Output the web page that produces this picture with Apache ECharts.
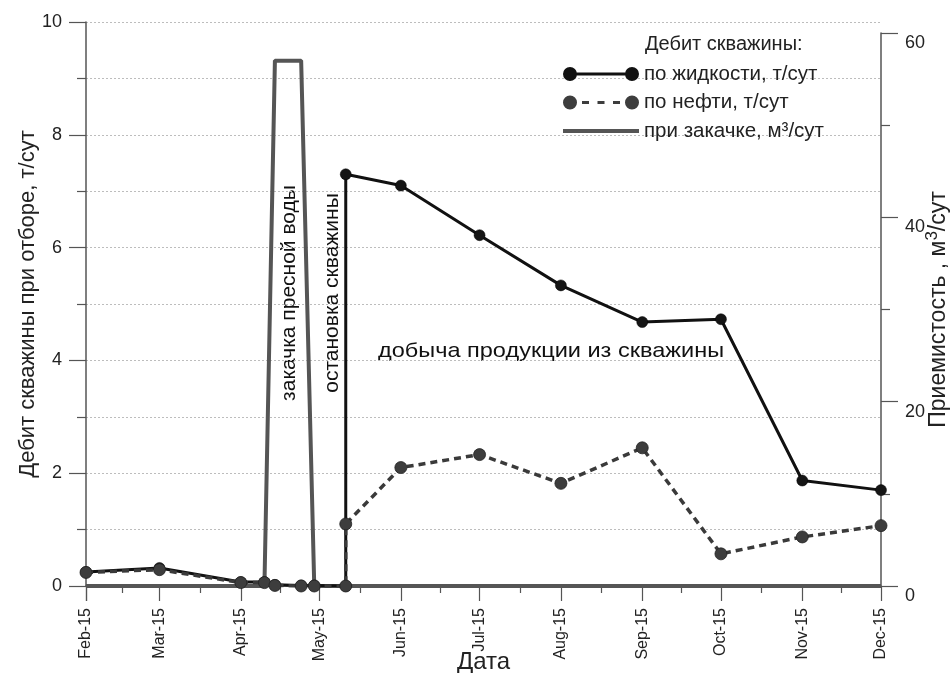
<!DOCTYPE html>
<html>
<head>
<meta charset="utf-8">
<style>
html,body{margin:0;padding:0;background:#fff;}
#chart{width:951px;height:673px;}
</style>
<script src="https://cdn.jsdelivr.net/npm/echarts@6/dist/echarts.min.js"></script>
</head>
<body>
<div id="chart"></div>
<script>
// ---- data ----
const monthNames = ['Jan','Feb','Mar','Apr','May','Jun','Jul','Aug','Sep','Oct','Nov','Dec'];
const prodDates = ['2015-02-01','2015-03-01','2015-04-01','2015-04-10','2015-04-14','2015-04-24','2015-04-29','2015-05-11','2015-05-11','2015-06-01','2015-07-01','2015-08-01','2015-09-01','2015-10-01','2015-11-01','2015-12-01'];
const liquidRate = [0.25, 0.32, 0.07, 0.07, 0.02, 0.01, 0.01, 0.0, 7.30, 7.10, 6.22, 5.33, 4.68, 4.73, 1.87, 1.70];
const oilRate    = [0.24, 0.29, 0.06, 0.06, 0.01, 0.0, 0.0, 0.0, 1.10, 2.10, 2.33, 1.82, 2.45, 0.57, 0.87, 1.07];
const injDates = ['2015-02-01','2015-04-10','2015-04-14','2015-04-24','2015-04-29','2015-12-01'];
const injRate  = [0, 0, 57, 57, 0, 0];

const nameLiquid = 'по жидкости, т/сут';
const nameOil = 'по нефти, т/сут';
const nameInj = 'при закачке, м³/сут';

const FONT = '"Liberation Sans", Arial, sans-serif';

const liquidData = prodDates.map((d, i) => [d, liquidRate[i]]);
const oilData = prodDates.map((d, i) => [d, oilRate[i]]);
const injData = injDates.map((d, i) => [d, injRate[i]]);

function fmtMonth(v) {
  const d = new Date(v);
  return monthNames[d.getMonth()] + '-' + String(d.getFullYear()).slice(2);
}

const iconLiquid = 'path://M0,7A7,7,0,1,1,14,7A7,7,0,1,1,0,7Z M7,5.5L69,5.5L69,8.5L7,8.5Z M62,7A7,7,0,1,1,76,7A7,7,0,1,1,62,7Z';
const iconOil = 'path://M0,7A7,7,0,1,1,14,7A7,7,0,1,1,0,7Z M19,5.5L26,5.5L26,8.5L19,8.5Z M34.5,5.5L41.5,5.5L41.5,8.5L34.5,8.5Z M50,5.5L57,5.5L57,8.5L50,8.5Z M62,7A7,7,0,1,1,76,7A7,7,0,1,1,62,7Z';
const iconInj = 'path://M0,0L76,0L76,4L0,4Z';

const chart = echarts.init(document.getElementById('chart'), null, {renderer: 'canvas'});
const axisColor = '#555';
const option = {
  backgroundColor: '#fff',
  animation: false,
  textStyle: {fontFamily: FONT},
  title: {
    text: 'Дебит скважины:',
    left: 645, top: 34, padding: 0,
    textStyle: {fontFamily: FONT, fontSize: 20, fontWeight: 'normal', color: '#222'}
  },
  legend: {
    orient: 'vertical',
    left: 563, top: 63, padding: 0,
    itemWidth: 76, itemHeight: 14, itemGap: 6.5,
    textStyle: {fontFamily: FONT, fontSize: 20.5, color: '#222', lineHeight: 22},
    data: [
      {name: nameLiquid, icon: iconLiquid, itemStyle: {color: '#111', borderWidth: 0}},
      {name: nameOil, icon: iconOil, itemStyle: {color: '#3d3d3d', borderWidth: 0}},
      {name: nameInj, icon: iconInj, itemStyle: {color: '#555', borderWidth: 0}}
    ]
  },
  grid: [
    {left: 86, right: 70, top: 22, bottom: 87, outerBoundsMode: 'none', containLabel: false},
    {left: 86, right: 70, top: 33, bottom: 87, outerBoundsMode: 'none', containLabel: false}
  ],
  xAxis: [
    {
      type: 'time', gridIndex: 0,
      min: '2015-02-01', max: '2015-12-01',
      splitNumber: 10,
      name: 'Дата', nameLocation: 'middle', nameGap: 64, nameMoveOverlap: false,
      nameTextStyle: {fontFamily: FONT, fontSize: 24, color: '#222'},
      axisLine: {lineStyle: {color: axisColor, width: 1.5}},
      axisTick: {show: true, length: 15, lineStyle: {color: axisColor, width: 1.2}},
      minorTick: {show: true, splitNumber: 2, length: 7, lineStyle: {color: axisColor, width: 1.2}},
      splitLine: {show: false},
      axisLabel: {rotate: 90, fontFamily: FONT, fontSize: 16, color: '#222', margin: 22, formatter: fmtMonth, hideOverlap: false, showMaxLabel: true, showMinLabel: true}
    },
    {
      type: 'time', gridIndex: 1,
      min: '2015-02-01', max: '2015-12-01',
      show: false
    }
  ],
  yAxis: [
    {
      type: 'value', gridIndex: 0, position: 'left',
      min: 0, max: 10, interval: 2,
      name: 'Дебит скважины при отборе, т/сут',
      nameLocation: 'middle', nameGap: 47, nameMoveOverlap: false,
      nameTextStyle: {fontFamily: FONT, fontSize: 22, color: '#222'},
      axisLine: {show: true, lineStyle: {color: axisColor, width: 1.5}},
      axisTick: {show: true, length: 17, lineStyle: {color: axisColor, width: 1.2}},
      minorTick: {show: true, splitNumber: 2, length: 9, lineStyle: {color: axisColor, width: 1.2}},
      splitLine: {show: true, lineStyle: {color: '#bdbdbd', type: [2, 2], width: 1}},
      minorSplitLine: {show: true, lineStyle: {color: '#bdbdbd', type: [2, 2], width: 1}},
      axisLabel: {fontFamily: FONT, fontSize: 18, color: '#222', margin: 24}
    },
    {
      type: 'value', gridIndex: 1, position: 'right',
      min: 0, max: 60, interval: 20,
      name: '{a|Приемистость , м}{s|3}{a|/сут}',
      nameLocation: 'middle', nameGap: 43, nameMoveOverlap: false,
      nameTextStyle: {
        fontFamily: FONT, fontSize: 23, color: '#222',
        rich: {
          a: {fontFamily: FONT, fontSize: 23, color: '#222', lineHeight: 26, verticalAlign: 'bottom'},
          s: {fontFamily: FONT, fontSize: 17, color: '#222', lineHeight: 26, verticalAlign: 'top', padding: [0, 0, 8, 0]}
        }
      },
      axisLine: {show: true, lineStyle: {color: axisColor, width: 1.5}},
      axisTick: {show: true, length: 17, lineStyle: {color: axisColor, width: 1.2}},
      minorTick: {show: true, splitNumber: 2, length: 9, lineStyle: {color: axisColor, width: 1.2}},
      splitLine: {show: false},
      axisLabel: {fontFamily: FONT, fontSize: 18, color: '#222', margin: 24, verticalAlign: 'top', padding: [1, 0, 0, 0]}
    }
  ],
  graphic: [
    {type: 'text', x: 289, y: 293, rotation: Math.PI / 2,
     style: {text: 'закачка пресной воды', fontFamily: FONT, fontSize: 21, fill: '#111', align: 'center', verticalAlign: 'middle'}},
    {type: 'text', x: 332, y: 293, rotation: Math.PI / 2,
     style: {text: 'остановка скважины', fontFamily: FONT, fontSize: 21, fill: '#111', align: 'center', verticalAlign: 'middle'}},
    {type: 'text', x: 378, y: 351, scaleX: 1.12,
     style: {text: 'добыча продукции из скважины', fontFamily: FONT, fontSize: 21, fill: '#111', align: 'left', verticalAlign: 'middle'}}
  ],
  series: [
    {
      name: nameInj, type: 'line', xAxisIndex: 1, yAxisIndex: 1,
      data: injData, symbol: 'none', z: 2,
      lineStyle: {color: '#555', width: 4},
      itemStyle: {color: '#555'}
    },
    {
      name: nameLiquid, type: 'line', xAxisIndex: 0, yAxisIndex: 0,
      data: liquidData, symbol: 'circle', symbolSize: 11, z: 3,
      lineStyle: {color: '#111', width: 3},
      itemStyle: {color: '#151515', borderColor: '#000', borderWidth: 0.5}
    },
    {
      name: nameOil, type: 'line', xAxisIndex: 0, yAxisIndex: 0,
      data: oilData, symbol: 'circle', symbolSize: 12, z: 4,
      lineStyle: {color: '#3a3a3a', width: 3.5, type: [7, 5]},
      itemStyle: {color: '#3d3d3d', borderColor: '#222', borderWidth: 0.8}
    }
  ]
};
chart.setOption(option);
</script>
</body>
</html>
